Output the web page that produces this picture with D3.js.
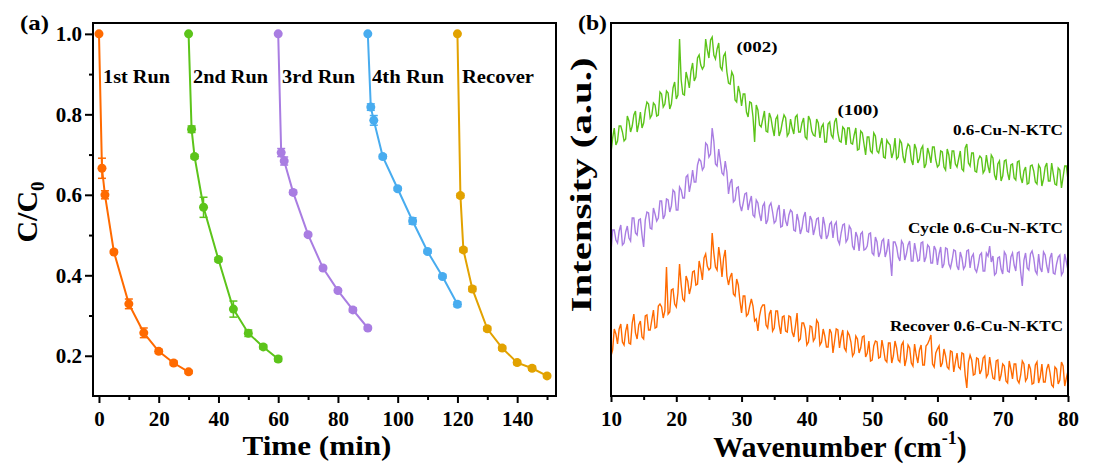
<!DOCTYPE html>
<html><head><meta charset="utf-8">
<script src="https://cdn.jsdelivr.net/npm/d3@7"></script>
<style>
body{margin:0;background:#fff}
svg{display:block}
text{font-family:"Liberation Serif","Times New Roman",serif;font-weight:bold;fill:#000}
</style>
</head><body>
<svg id="c" width="1096" height="465"></svg>
<script>
// ---------- Panel (a): C/C0 vs time for cycling runs ----------
const runNames  = ["1st Run", "2nd Run", "3rd Run", "4th Run", "Recover"];
const runColors = ["#FF6A00", "#5CC41A", "#A97DE2", "#48ACEF", "#E2A200"];
const time1 = [0, 1, 2, 5, 10, 15, 20, 25, 30];
const time2 = [30, 31, 32, 35, 40, 45, 50, 55, 60];
const time3 = [60, 61, 62, 65, 70, 75, 80, 85, 90];
const time4 = [90, 91, 92, 95, 100, 105, 110, 115, 120];
const time5 = [120, 121, 122, 125, 130, 135, 140, 145, 150];
const conc1 = [1.0, 0.666, 0.600, 0.458, 0.329, 0.257, 0.211, 0.182, 0.160];
const conc2 = [1.0, 0.763, 0.695, 0.569, 0.439, 0.316, 0.256, 0.222, 0.192];
const conc3 = [1.0, 0.705, 0.684, 0.606, 0.501, 0.418, 0.362, 0.314, 0.269];
const conc4 = [1.0, 0.818, 0.785, 0.695, 0.615, 0.535, 0.459, 0.397, 0.328];
const conc5 = [1.0, 0.598, 0.463, 0.366, 0.267, 0.219, 0.183, 0.169, 0.150];
const err1 = [0, 0.025, 0.010, 0.004, 0.012, 0.012, 0.005, 0.005, 0.004];
const err2 = [0, 0.008, 0.005, 0.025, 0.005, 0.020, 0.008, 0.005, 0.006];
const err3 = [0, 0.010, 0.010, 0.005, 0.004, 0.004, 0.004, 0.005, 0.004];
const err4 = [0, 0.008, 0.012, 0.005, 0.004, 0.008, 0.004, 0.004, 0.006];
const err5 = [0, 0.005, 0.005, 0.006, 0.005, 0.005, 0.005, 0.005, 0.004];
const xTicksA = [0, 20, 40, 60, 80, 100, 120, 140];
const xMinorA = [10, 30, 50, 70, 90, 110, 130, 150];
const yTicksA = [0.2, 0.4, 0.6, 0.8, 1.0];
const yMinorA = [0.3, 0.5, 0.7, 0.9];

// ---------- Panel (b): intensity vs wavenumber (10..80, step 0.25) ----------
const specNames  = ["0.6-Cu-N-KTC", "Cycle 0.6-Cu-N-KTC", "Recover 0.6-Cu-N-KTC"];
const specColors = ["#5CC41A", "#A97DE2", "#FF6A00"];
const wavenumber = d3.range(10, 80.001, 0.25);
const specFresh = [
243,258,268,251,255,270,270,264,255,257,280,275,264,270,281,285,264,272,284,268,273,286,294,292,278,281,293,291,280,281,304,302,289,292,305,303,287,292,308,314,
297,301,357,316,302,301,324,317,308,325,333,315,319,338,341,331,327,330,357,346,338,356,359,341,337,347,353,329,326,340,343,324,313,312,324,320,296,294,310,303,
290,302,302,284,279,294,293,279,254,291,286,271,269,277,285,265,264,283,278,268,260,277,280,260,265,274,281,278,260,263,277,268,262,279,281,264,264,273,278,259,
257,280,276,265,261,260,277,273,258,269,272,254,254,272,274,261,258,274,278,263,255,254,269,267,251,268,268,253,252,261,268,246,247,265,263,252,241,259,259,245,
243,263,260,245,243,251,258,239,238,256,253,251,238,244,258,237,239,256,253,239,233,246,252,250,236,231,252,247,233,237,247,250,228,232,248,242,233,249,249,236,
229,231,245,244,229,226,247,241,227,245,245,232,229,237,245,227,225,248,252,233,230,243,243,225,224,236,240,238,223,226,241,230,223,241,238,221,216,232,235,215,
220,235,236,223,216,231,232,218,216,234,235,219,213,225,229,212,213,230,231,225,214,212,231,228,210,217,229,233,215,215,233,222,212,211,228,226,208,219,230,230,216];
const specCycle = [
144,166,166,156,153,165,171,151,153,164,170,158,155,178,178,163,161,176,177,161,149,176,184,183,168,167,188,182,175,178,195,195,177,181,197,196,184,190,206,204,
186,186,209,206,198,198,219,221,204,213,226,214,214,231,237,235,226,229,253,251,239,242,268,255,232,230,247,235,223,221,235,224,202,213,217,194,196,208,209,191,
185,193,202,203,186,194,200,181,179,196,193,182,175,190,193,172,176,190,193,184,173,175,186,191,169,170,187,175,170,181,186,184,166,165,182,175,162,168,179,184,
165,164,180,176,161,168,177,178,161,157,179,171,157,161,172,174,158,171,174,156,152,163,171,172,154,157,170,167,150,146,164,159,145,162,164,146,147,150,162,163,
143,141,159,154,139,144,155,157,139,145,157,139,120,154,154,149,139,135,155,152,136,142,151,155,135,135,153,144,135,136,153,154,134,139,151,149,133,133,150,146,
131,142,149,128,132,148,147,132,128,136,146,145,130,126,144,138,127,130,145,146,128,139,142,127,124,131,141,143,125,125,143,140,150,134,140,121,123,138,139,127,
122,144,141,125,124,139,143,131,125,143,144,124,110,136,143,128,126,142,145,138,125,122,142,128,124,144,141,130,123,138,143,123,122,132,139,141,121,124,142,134,126];
const specRecover = [
40,46,67,62,52,67,72,54,51,65,72,53,52,73,82,63,57,71,75,59,57,80,81,66,66,76,86,68,69,90,92,89,78,85,129,82,84,106,107,92,
89,103,132,111,97,95,120,115,102,109,124,125,111,112,135,127,116,138,142,130,126,128,163,143,129,126,149,137,119,138,146,120,111,119,123,102,100,117,111,95,
83,100,100,80,82,90,97,90,75,77,65,80,88,91,91,71,68,82,86,65,68,85,85,71,62,79,80,65,64,80,79,64,59,70,83,55,57,73,73,67,
51,54,70,69,55,58,76,73,51,54,67,60,49,49,67,63,43,55,67,66,48,59,66,48,45,64,61,54,40,43,60,57,43,48,59,60,39,43,55,35,
36,50,55,54,38,39,56,47,36,34,53,53,33,40,55,48,36,34,51,54,30,37,51,48,33,30,52,41,33,46,51,31,31,50,52,56,61,32,29,43,
47,50,29,33,47,40,29,27,45,44,24,34,43,29,27,43,42,21,8,34,41,36,21,22,38,37,22,26,38,40,19,22,39,28,18,17,35,36,15,21,
32,30,15,13,35,27,17,32,32,16,13,21,35,32,15,18,32,27,12,13,31,34,13,19,32,14,14,27,32,23,11,9,29,27,12,16,34,30,10,18,25];
const xTicksB = [10, 20, 30, 40, 50, 60, 70, 80];
const xMinorB = [15, 25, 35, 45, 55, 65, 75];

// ---------- layout ----------
const svg = d3.select("#c");
const A = {x0: 93, x1: 556, y0: 23, y1: 396};
const B = {x0: 611, x1: 1068, y0: 23, y1: 396};

function label(g, x, y, str, size, opts = {}) {
  const t = g.append("text").attr("x", x).attr("y", y).attr("font-size", size).text(str);
  if (opts.anchor) t.attr("text-anchor", opts.anchor);
  if (opts.len) t.attr("textLength", opts.len).attr("lengthAdjust", "spacingAndGlyphs");
  if (opts.rotate) t.attr("transform", `rotate(${opts.rotate},${x},${y})`);
  return t;
}
function styleAxis(g) {
  g.select(".domain").remove();
  g.selectAll(".tick line").attr("stroke", "#000").attr("stroke-width", 2);
  g.selectAll(".tick text").attr("font-size", 21).attr("fill", "#000")
    .attr("font-family", '"Liberation Serif","Times New Roman",serif').attr("font-weight", "bold");
}

// ===== Panel (a) =====
const xA = d3.scaleLinear().domain([-2, 153]).range([A.x0, A.x1]);
const yA = d3.scaleLinear().domain([0.1, 1.027]).range([A.y1, A.y0]);
const gA = svg.append("g");

gA.append("g").attr("transform", `translate(0,${A.y1})`)
  .call(d3.axisBottom(xA).tickValues(xTicksA).tickSize(7).tickPadding(8).tickFormat(d3.format("d"))).call(styleAxis);
gA.append("g").attr("transform", `translate(0,${A.y1})`)
  .call(d3.axisBottom(xA).tickValues(xMinorA).tickSize(4).tickFormat("")).call(styleAxis);
gA.append("g").attr("transform", `translate(${A.x0},0)`)
  .call(d3.axisLeft(yA).tickValues(yTicksA).tickSize(8).tickPadding(3).tickFormat(d3.format(".1f"))).call(styleAxis);
gA.append("g").attr("transform", `translate(${A.x0},0)`)
  .call(d3.axisLeft(yA).tickValues(yMinorA).tickSize(4).tickFormat("")).call(styleAxis);

const runs = [
  {t: time1, c: conc1, e: err1}, {t: time2, c: conc2, e: err2}, {t: time3, c: conc3, e: err3},
  {t: time4, c: conc4, e: err4}, {t: time5, c: conc5, e: err5}
];
const lineA = d3.line().x(d => xA(d[0])).y(d => yA(d[1]));
runs.forEach((r, i) => {
  const pts = r.t.map((t, j) => [t, r.c[j], r.e[j]]);
  const col = runColors[i];
  gA.append("path").datum(pts).attr("d", lineA).attr("fill", "none").attr("stroke", col).attr("stroke-width", 2);
  const eb = gA.append("g").attr("stroke", col).attr("stroke-width", 1.5);
  pts.filter(p => p[2] > 0).forEach(p => {
    const x = xA(p[0]), yT = yA(p[1] + p[2]), yB = yA(p[1] - p[2]);
    eb.append("line").attr("x1", x).attr("x2", x).attr("y1", yT).attr("y2", yB);
    eb.append("line").attr("x1", x - 4).attr("x2", x + 4).attr("y1", yT).attr("y2", yT);
    eb.append("line").attr("x1", x - 4).attr("x2", x + 4).attr("y1", yB).attr("y2", yB);
  });
  gA.append("g").selectAll("circle").data(pts).join("circle")
    .attr("cx", d => xA(d[0])).attr("cy", d => yA(d[1])).attr("r", 4.5).attr("fill", col);
});
gA.append("rect").attr("x", A.x0).attr("y", A.y0).attr("width", A.x1 - A.x0).attr("height", A.y1 - A.y0)
  .attr("fill", "none").attr("stroke", "#000").attr("stroke-width", 2);

const runLabelX = [103, 193, 282, 372, 462];
const runLabelLen = [67, 75, 73, 72, 72];
runNames.forEach((n, i) => label(gA, runLabelX[i], 82.5, n, 18, {len: runLabelLen[i]}));

label(gA, 317, 455, "Time (min)", 27, {anchor: "middle", len: 149});
const yt = gA.append("text").attr("transform", "translate(37,212) rotate(-90)")
  .attr("text-anchor", "middle").attr("font-size", 30);
yt.append("tspan").text("C/C");
yt.append("tspan").attr("font-size", 19).attr("dy", 7).text("0");
label(gA, 20, 30, "(a)", 22, {len: 29});

// ===== Panel (b) =====
const xB = d3.scaleLinear().domain([10, 80]).range([B.x0, B.x1]);
const yB = d3.scaleLinear().domain([0, 373]).range([B.y1, B.y0]);
const gB = svg.append("g");
gB.append("clipPath").attr("id", "clipB").append("rect")
  .attr("x", B.x0).attr("y", B.y0).attr("width", B.x1 - B.x0).attr("height", B.y1 - B.y0);
const lineB = d3.line().x(d => xB(d[0])).y(d => yB(d[1]));
[specFresh, specCycle, specRecover].forEach((s, i) => {
  const pts = wavenumber.map((w, j) => [w, s[j]]);
  gB.append("path").datum(pts).attr("d", lineB).attr("fill", "none")
    .attr("stroke", specColors[i]).attr("stroke-width", 1.4).attr("clip-path", "url(#clipB)");
});
gB.append("g").attr("transform", `translate(0,${B.y1})`)
  .call(d3.axisBottom(xB).tickValues(xTicksB).tickSize(6).tickPadding(9).tickFormat(d3.format("d"))).call(styleAxis);
gB.append("g").attr("transform", `translate(0,${B.y1})`)
  .call(d3.axisBottom(xB).tickValues(xMinorB).tickSize(4).tickFormat("")).call(styleAxis);
gB.append("rect").attr("x", B.x0).attr("y", B.y0).attr("width", B.x1 - B.x0).attr("height", B.y1 - B.y0)
  .attr("fill", "none").attr("stroke", "#000").attr("stroke-width", 2);

label(gB, 757, 52, "(002)", 15, {anchor: "middle", len: 41});
label(gB, 858, 115, "(100)", 15, {anchor: "middle", len: 41});
label(gB, 1063, 135, specNames[0], 15, {anchor: "end", len: 110});
label(gB, 1063, 233, specNames[1], 15, {anchor: "end", len: 155});
label(gB, 1063, 331, specNames[2], 15, {anchor: "end", len: 173});

const xt = gB.append("text").attr("x", 840).attr("y", 457).attr("text-anchor", "middle").attr("font-size", 30);
xt.append("tspan").text("Wavenumber (cm");
xt.append("tspan").attr("font-size", 18).attr("dy", -13).text("-1");
xt.append("tspan").attr("dy", 13).text(")");
label(gB, 591, 185, "Intensity (a.u.)", 30, {anchor: "middle", len: 255, rotate: -90});
label(gB, 578, 30, "(b)", 22, {len: 29});
</script>
</body></html>
